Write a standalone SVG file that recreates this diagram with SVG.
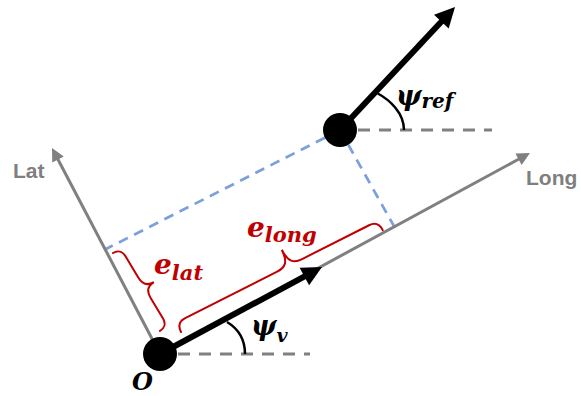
<svg xmlns="http://www.w3.org/2000/svg" width="581" height="396" viewBox="0 0 581 396">
<style>
.axis{stroke:#808080;stroke-width:3;fill:none}
.hdash{stroke:#808080;stroke-width:3;stroke-dasharray:12 9;fill:none}
.bdash{stroke:#7BA0DC;stroke-width:2.75;stroke-dasharray:10 7;fill:none}
.vec{stroke:#000;stroke-width:6;fill:none}
.arc{stroke:#000;stroke-width:2.5;fill:none}
.brace{stroke:#C00000;stroke-width:2;fill:none;stroke-linecap:round}
.pt{fill:#000}
.axlbl{font-family:"Liberation Sans",Arial,sans-serif;font-weight:bold;font-size:21px;fill:#7F7F7F}
.math{font-family:"DejaVu Serif","Liberation Serif",serif;font-weight:bold;font-style:italic}
.red{fill:#C00000}
</style>
<defs>
<marker id="headBlack" markerUnits="userSpaceOnUse" markerWidth="20" markerHeight="20" refX="4" refY="10" orient="auto" overflow="visible">
<path d="M0,0 L20,10 L0,20 z" fill="#000"/>
</marker>
<marker id="headGray" markerUnits="userSpaceOnUse" markerWidth="13" markerHeight="13" refX="2" refY="6.5" orient="auto" overflow="visible">
<path d="M0,0 L13,6.5 L0,13 z" fill="#808080"/>
</marker>
</defs>
<rect width="581" height="396" fill="#fff"/>
<g id="connectors">
<line class="bdash" x1="340" y1="130" x2="106" y2="249"/>
<line class="bdash" x1="340" y1="130" x2="395" y2="228"/>
<line class="axis" x1="160" y1="354" x2="520.3" y2="158.3" marker-end="url(#headGray)"/>
<line class="axis" x1="160" y1="354" x2="57.1" y2="157.7" marker-end="url(#headGray)"/>
<line class="hdash" x1="178" y1="354" x2="310" y2="354"/>
<line class="hdash" x1="358" y1="130" x2="492" y2="130"/>
<path class="arc" d="M227,322 C237,328 245,338 245,354"/>
<path class="arc" d="M377,93 C390,100 404,113 404,130"/>
<line class="vec" x1="160" y1="354" x2="307.9" y2="274.6" marker-end="url(#headBlack)"/>
<line class="vec" x1="340" y1="130" x2="444.1" y2="18.7" marker-end="url(#headBlack)"/>
</g>
<g id="brace-long" transform="translate(181,332) rotate(-26.8)">
<path class="brace" d="M0,0 C0,-6 3,-10.5 10,-10.5 L113,-10.5 C122,-10.5 127,-14 127,-28 C127,-14 132,-10.5 141,-10.5 L216,-10.5 C223,-10.5 226,-6 226,0"/>
</g>
<g id="brace-lat" transform="translate(113,253) rotate(58.93)">
<path class="brace" d="M0,0 C0,-5 3,-9 9,-9 L34,-9 C42,-9 46,-12 46,-20 C46,-12 50,-9 58,-9 L82,-9 C88,-9 91,-5 91,0"/>
</g>
<g id="point-O">
<circle class="pt" cx="160" cy="354" r="17"/>
<text class="math" x="132" y="390" font-size="24" fill="#000">O</text>
</g>
<g id="point-ref">
<circle class="pt" cx="340" cy="130" r="17"/>
</g>
<g id="label-lat-axis"><text class="axlbl" x="13" y="178">Lat</text></g>
<g id="label-long-axis"><text class="axlbl" x="526" y="185">Long</text></g>
<g id="label-elat"><text class="math red" x="154" y="274" font-size="28">e<tspan font-size="21" dy="6">lat</tspan></text></g>
<g id="label-elong"><text class="math red" x="247" y="237" font-size="28">e<tspan font-size="21" dy="5">long</tspan></text></g>
<g id="label-psiv"><text class="math" x="251" y="335" font-size="27" fill="#000">ψ<tspan font-size="19" dy="7">v</tspan></text></g>
<g id="label-psiref"><text class="math" x="396" y="105" font-size="27" fill="#000">ψ<tspan font-size="20" dy="3">ref</tspan></text></g>
</svg>
